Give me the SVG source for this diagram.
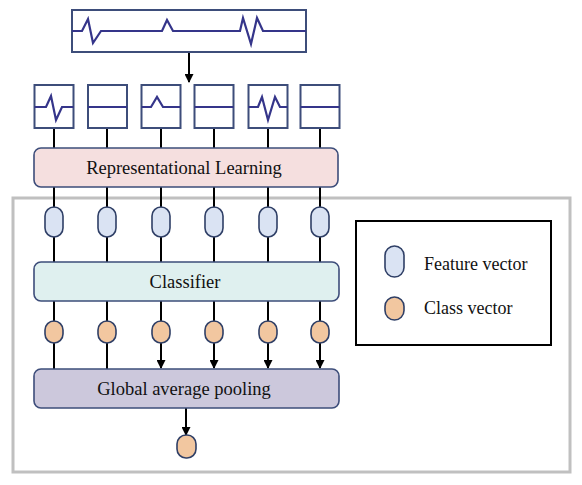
<svg xmlns="http://www.w3.org/2000/svg" width="582" height="485" viewBox="0 0 582 485">
<defs>
<marker id="arr" markerWidth="9" markerHeight="9" refX="8" refY="4.5" orient="auto" markerUnits="userSpaceOnUse">
<path d="M0,0 L9,4.5 L0,9 Z" fill="#000"/>
</marker>
<style>
.sig{fill:#fff;stroke:#3d4d7a;stroke-width:2}
.wave{fill:none;stroke:#35358a;stroke-width:2.2;stroke-linejoin:miter}
.bar{stroke:#3d4d7a;stroke-width:1.6}
.lbl{font-family:"Liberation Serif","Times New Roman",serif;font-size:18.5px;fill:#111}
.leg{font-family:"Liberation Serif","Times New Roman",serif;font-size:18px;fill:#111}
.fv{fill:#dae3f3;stroke:#2f3f66;stroke-width:1.6}
.cv{fill:#f2c7a0;stroke:#2f3f66;stroke-width:1.6}
.ln{stroke:#000;stroke-width:2;fill:none}
</style>
</defs>
<rect x="13" y="198" width="557" height="274" fill="none" stroke="#c0c0c0" stroke-width="3"/>
<g id="connectors">
<line class="ln" x1="189" y1="52" x2="189" y2="82" marker-end="url(#arr)"/>
<line class="ln" x1="54" y1="128" x2="54" y2="148"/>
<line class="ln" x1="107" y1="128" x2="107" y2="148"/>
<line class="ln" x1="161" y1="128" x2="161" y2="148"/>
<line class="ln" x1="214" y1="128" x2="214" y2="148"/>
<line class="ln" x1="268" y1="128" x2="268" y2="148"/>
<line class="ln" x1="320" y1="128" x2="320" y2="148"/>
<line class="ln" x1="54" y1="187" x2="54" y2="262"/>
<line class="ln" x1="107" y1="187" x2="107" y2="262"/>
<line class="ln" x1="161" y1="187" x2="161" y2="262"/>
<line class="ln" x1="214" y1="187" x2="214" y2="262"/>
<line class="ln" x1="268" y1="187" x2="268" y2="262"/>
<line class="ln" x1="320" y1="187" x2="320" y2="262"/>
<line class="ln" x1="54" y1="301" x2="54" y2="369"/>
<line class="ln" x1="107" y1="301" x2="107" y2="369"/>
<line class="ln" x1="161" y1="301" x2="161" y2="368" marker-end="url(#arr)"/>
<line class="ln" x1="214" y1="301" x2="214" y2="368" marker-end="url(#arr)"/>
<line class="ln" x1="268" y1="301" x2="268" y2="368" marker-end="url(#arr)"/>
<line class="ln" x1="320" y1="301" x2="320" y2="368" marker-end="url(#arr)"/>
<line class="ln" x1="186" y1="408" x2="186" y2="435" marker-end="url(#arr)"/>
</g>
<g id="input-signal">
<rect class="sig" x="72" y="10" width="234" height="42"/>
<path class="wave" d="M72,31 L82,31 L88,19 L93,43 L101,31 L162,31 L167,20 L173,31 L240,31 L243,18 L251,44 L257,18 L263,31 L306,31"/>
</g>
<g id="seg1"><rect class="sig" x="34.5" y="85" width="39" height="43"/><path class="wave" d="M34.5,107 L46,107 L51,96 L56,120 L62,107 L73.5,107"/></g>
<g id="seg2"><rect class="sig" x="88" y="85" width="39" height="43"/><path class="wave" d="M88,107 L127,107"/></g>
<g id="seg3"><rect class="sig" x="141.5" y="85" width="39" height="43"/><path class="wave" d="M141.5,107 L151,107 L157,97 L163,107 L180.5,107"/></g>
<g id="seg4"><rect class="sig" x="194.5" y="85" width="39" height="43"/><path class="wave" d="M194.5,107 L233.5,107"/></g>
<g id="seg5"><rect class="sig" x="248.5" y="85" width="39" height="43"/><path class="wave" d="M248.5,107 L258,107 L262,97 L268,120 L275,97 L280,107 L287.5,107"/></g>
<g id="seg6"><rect class="sig" x="300.5" y="85" width="39" height="43"/><path class="wave" d="M300.5,107 L339.5,107"/></g>
<g id="representational-learning">
<rect x="34" y="148" width="304" height="39" rx="7" fill="#f5dfdf" class="bar"/>
<text class="lbl" x="184" y="174" text-anchor="middle">Representational Learning</text>
</g>
<g id="feature-vectors">
<rect class="fv" x="45" y="207" width="18" height="30" rx="9"/>
<rect class="fv" x="98" y="207" width="18" height="30" rx="9"/>
<rect class="fv" x="152" y="207" width="18" height="30" rx="9"/>
<rect class="fv" x="205" y="207" width="18" height="30" rx="9"/>
<rect class="fv" x="259" y="207" width="18" height="30" rx="9"/>
<rect class="fv" x="311" y="207" width="18" height="30" rx="9"/>
</g>
<g id="classifier">
<rect x="34" y="262" width="305" height="39" rx="7" fill="#dff0ef" class="bar"/>
<text class="lbl" x="185" y="288" text-anchor="middle">Classifier</text>
</g>
<g id="class-vectors">
<rect class="cv" x="45" y="321" width="18" height="22" rx="9"/>
<rect class="cv" x="98" y="321" width="18" height="22" rx="9"/>
<rect class="cv" x="152" y="321" width="18" height="22" rx="9"/>
<rect class="cv" x="205" y="321" width="18" height="22" rx="9"/>
<rect class="cv" x="259" y="321" width="18" height="22" rx="9"/>
<rect class="cv" x="311" y="321" width="18" height="22" rx="9"/>
</g>
<g id="global-average-pooling">
<rect x="34" y="369" width="305" height="39" rx="7" fill="#ccc8dc" class="bar"/>
<text class="lbl" x="184" y="395" text-anchor="middle">Global average pooling</text>
</g>
<g id="output">
<rect class="cv" x="177" y="435" width="19" height="23" rx="9"/>
</g>
<g id="legend">
<rect x="356" y="221" width="195" height="124" fill="#fff" stroke="#000" stroke-width="2"/>
<rect class="fv" x="385" y="246" width="19" height="31" rx="9.5"/>
<text class="leg" x="424" y="270">Feature vector</text>
<rect class="cv" x="385" y="297" width="19" height="23" rx="9.5"/>
<text class="leg" x="424" y="314">Class vector</text>
</g>
</svg>
